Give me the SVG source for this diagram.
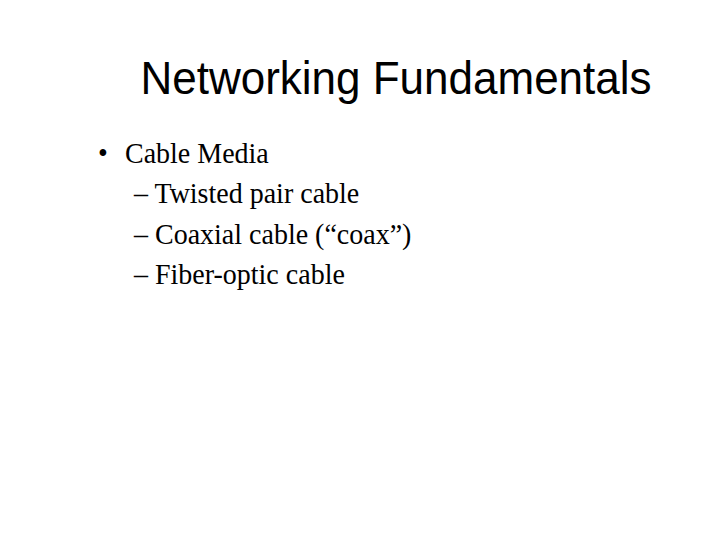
<svg xmlns="http://www.w3.org/2000/svg" width="720" height="540" viewBox="0 0 720 540">
<style>
.t{font-family:"Liberation Sans",Arial,sans-serif;font-size:44px;fill:#000}
.b{font-family:"Liberation Serif","Times New Roman",serif;font-size:28px;fill:#000}
</style>
<rect width="720" height="540" fill="#fff"/>
<g id="title"><text class="t" transform="translate(396,94) scale(1,1.05)" text-anchor="middle">Networking Fundamentals</text></g>
<g id="bullets">
<text class="b" transform="translate(98,163) scale(1,1.07)">•</text>
<text class="b" transform="translate(125,163) scale(1,1.07)">Cable Media</text>
<text class="b" transform="translate(134,203) scale(1,1.07)">– Twisted pair cable</text>
<text class="b" transform="translate(134,244) scale(1,1.07)">– Coaxial cable (“coax”)</text>
<text class="b" transform="translate(134,284) scale(1,1.07)">– Fiber-optic cable</text>
</g>
</svg>
